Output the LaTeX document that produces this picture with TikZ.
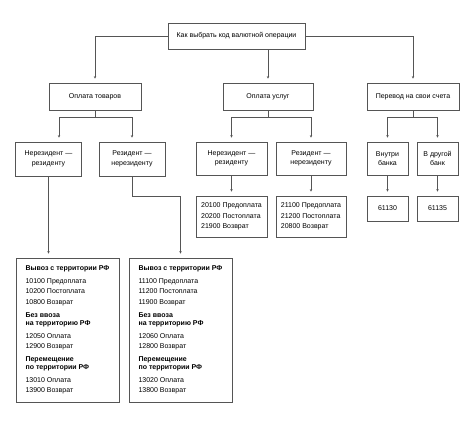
\documentclass[tikz,border=0pt]{standalone}
\usepackage{fontspec}
\setmainfont{Liberation Sans}
\usetikzlibrary{arrows.meta}
\definecolor{linec}{RGB}{85,85,85}
\newcommand{\hd}[1]{\textbf{#1}}

\tikzset{
	box/.style={draw=linec, line width=0.6pt, align=center, inner sep=1pt,
		font=\fontsize{7}{9.5}\selectfont},
	codebox/.style={box, align=left, font=\fontsize{7}{10.3}\selectfont},
	arr/.style={draw=linec, line width=0.6pt, -{Stealth[length=2.6pt,width=2.4pt]}, shorten >=4pt},
	link/.style={draw=linec, line width=0.6pt},
}

\begin{document}
\begin{tikzpicture}[x=1pt, y=-1pt]
	\useasboundingbox (0,0) rectangle (474,424);

	%top
	\node[box, minimum width=137, minimum height=26] (top) at (236.5,36) {Как выбрать код валютной операции};

	%second row
	\node[box, minimum width=92, minimum height=27] (goods) at (95,96.5) {Оплата товаров};
	\node[box, minimum width=90, minimum height=27] (serv) at (268,96.5) {Оплата услуг};
	\node[box, minimum width=92, minimum height=27] (own) at (413,96.5) {Перевод на свои счета};

	\draw[arr] (top.west) -| (goods.north);
	\draw[arr] (serv.north |- top.south) -- (serv.north);
	\draw[arr] (top.east) -| (own.north);

	%third row
	\node[box, minimum width=66, minimum height=34] (gnr) at (48.5,159) {Нерезидент —\\резиденту};
	\node[box, minimum width=66, minimum height=34] (grn) at (132,159) {Резидент —\\нерезиденту};
	\node[box, minimum width=71, minimum height=33] (snr) at (231.5,158.5) {Нерезидент —\\резиденту};
	\node[box, minimum width=70, minimum height=33] (srn) at (311,158.5) {Резидент —\\нерезиденту};
	\node[box, minimum width=41, minimum height=33] (inb) at (387.5,158.5) {Внутри\\банка};
	\node[box, minimum width=41, minimum height=33] (otb) at (437.5,158.5) {В другой\\банк};

	\coordinate (gj) at ([yshift=-7]goods.south);
	\coordinate (sj) at ([yshift=-7]serv.south);
	\coordinate (oj) at ([yshift=-7]own.south);
	\draw[link] (goods.south) -- (gj);
	\draw[arr] (gj) -| ([xshift=10.5]gnr.north);
	\draw[arr] (gj) -| (grn.north);
	\draw[link] (serv.south) -- (sj);
	\draw[arr] (sj) -| (snr.north);
	\draw[arr] (sj) -| (srn.north);
	\draw[link] (own.south) -- (oj);
	\draw[arr] (oj) -| (inb.north);
	\draw[arr] (oj) -| (otb.north);

	%codes for services and own accounts
	\node[codebox, minimum width=71, minimum height=41] (scodes) at (231.5,216.5)
		{20100 Предоплата\\20200 Постоплата\\21900 Возврат};
	\node[codebox, minimum width=70, minimum height=41] (rcodes) at (311,216.5)
		{21100 Предоплата\\21200 Постоплата\\20800 Возврат};
	\node[box, minimum width=41, minimum height=25] (inbcode) at (387.5,208.5) {61130};
	\node[box, minimum width=41, minimum height=25] (otbcode) at (437.5,208.5) {61135};

	\draw[arr] (snr.south) -- (scodes.north);
	\draw[arr] (srn.south) -- (rcodes.north);
	\draw[arr] (inb.south) -- (inbcode.north);
	\draw[arr] (otb.south) -- (otbcode.north);

	%codes for goods
	\node[codebox, minimum width=103, minimum height=144] (gcodes) at (67.5,330)
		{\hd{Вывоз с территории РФ}\\[2.5pt]
		10100 Предоплата\\10200 Постоплата\\10800 Возврат\\[2.5pt]
		\hd{Без ввоза}\\[-2pt]\hd{на территорию РФ}\\[2.5pt]
		12050 Оплата\\12900 Возврат\\[2.5pt]
		\hd{Перемещение}\\[-2pt]\hd{по территории РФ}\\[2.5pt]
		13010 Оплата\\13900 Возврат};
	\node[codebox, minimum width=103, minimum height=144] (rgcodes) at (180.5,330)
		{\hd{Вывоз с территории РФ}\\[2.5pt]
		11100 Предоплата\\11200 Постоплата\\11900 Возврат\\[2.5pt]
		\hd{Без ввоза}\\[-2pt]\hd{на территорию РФ}\\[2.5pt]
		12060 Оплата\\12800 Возврат\\[2.5pt]
		\hd{Перемещение}\\[-2pt]\hd{по территории РФ}\\[2.5pt]
		13020 Оплата\\13800 Возврат};

	\draw[arr] (gnr.south) -- (gcodes.north -| gnr.south);
	\draw[arr] (grn.south) -- ++(0,20) -| (rgcodes.north);

\end{tikzpicture}
\end{document}
